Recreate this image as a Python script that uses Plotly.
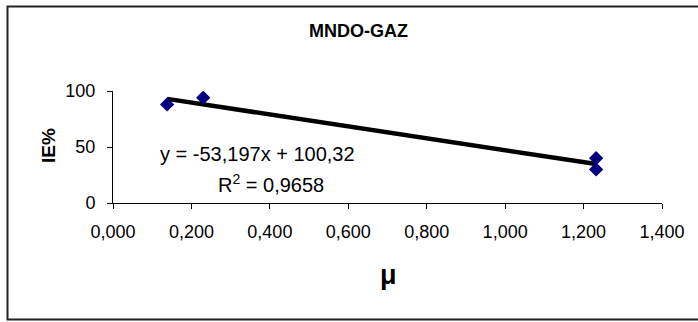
import plotly.graph_objects as go

# Dipole moment (µ) vs inhibition efficiency (IE%), MNDO gas phase
mu = [0.138, 0.230, 1.232, 1.232]
ie = [88, 94, 40, 30]

# Linear trendline y = a*x + b
slope = -53.197
intercept = 100.32
r2_text = "0,9658"
eq_text = "y = -53,197x + 100,32"

x_ticks = [0.0, 0.2, 0.4, 0.6, 0.8, 1.0, 1.2, 1.4]
x_tick_labels = ["0,000", "0,200", "0,400", "0,600", "0,800", "1,000", "1,200", "1,400"]
y_ticks = [0, 50, 100]

W, H = 698, 322
L, R, T, B = 113, 36, 91, 119
pw, ph = W - L - R, H - T - B

def px_to_paper_x(px):
    return (px - L) / pw

def px_to_paper_y(py):
    return (H - B - py) / ph

trend_x = [min(mu), max(mu)]
trend_y = [slope * v + intercept for v in trend_x]

fig = go.Figure()
fig.add_trace(go.Scatter(
    x=trend_x, y=trend_y, mode="lines",
    line=dict(color="black", width=4.5), showlegend=False, hoverinfo="skip",
))
fig.add_trace(go.Scatter(
    x=mu, y=ie, mode="markers",
    marker=dict(symbol="diamond", size=11, color="#000080"),
    showlegend=False,
))

font = "Liberation Sans, Arial, sans-serif"

fig.update_layout(
    width=W, height=H,
    margin=dict(l=L, r=R, t=T, b=B, pad=0),
    paper_bgcolor="white", plot_bgcolor="white",
    font=dict(family=font, color="black"),
    xaxis=dict(
        range=[0, 1.4], tickvals=x_ticks, ticktext=x_tick_labels,
        showgrid=False, zeroline=False, showline=True, linecolor="black", linewidth=1,
        ticks="outside", ticklen=5, tickcolor="black", tickfont=dict(size=18),
        ticklabelstandoff=7,
    ),
    yaxis=dict(
        range=[0, 100], tickvals=y_ticks,
        showgrid=False, zeroline=False, showline=True, linecolor="black", linewidth=1,
        ticks="outside", ticklen=5, tickcolor="black", tickfont=dict(size=18),
        ticklabelstandoff=8,
    ),
    annotations=[
        dict(text="<b>MNDO-GAZ</b>", xref="paper", yref="paper",
             x=px_to_paper_x(358), y=px_to_paper_y(31), showarrow=False,
             font=dict(size=18), xanchor="center", yanchor="middle"),
        dict(text="<b>IE%</b>", xref="paper", yref="paper",
             x=px_to_paper_x(48), y=px_to_paper_y(146), showarrow=False,
             font=dict(size=19), textangle=-90, xanchor="center", yanchor="middle"),
        dict(text="<b>μ</b>", xref="paper", yref="paper",
             x=px_to_paper_x(388), y=px_to_paper_y(275), showarrow=False,
             font=dict(size=27), xanchor="center", yanchor="middle"),
        dict(text=eq_text, xref="paper", yref="paper",
             x=px_to_paper_x(257), y=px_to_paper_y(154), showarrow=False,
             font=dict(size=20), xanchor="center", yanchor="middle"),
        dict(text="R<sup>2</sup> = " + r2_text, xref="paper", yref="paper",
             x=px_to_paper_x(271), y=px_to_paper_y(183), showarrow=False,
             font=dict(size=20), xanchor="center", yanchor="middle"),
    ],
    shapes=[
        dict(type="rect", xref="paper", yref="paper",
             x0=px_to_paper_x(7.5), x1=px_to_paper_x(705),
             y0=px_to_paper_y(6.5), y1=px_to_paper_y(319.5),
             line=dict(color="#222222", width=2), layer="below"),
    ],
)

fig.write_html("out.html")
